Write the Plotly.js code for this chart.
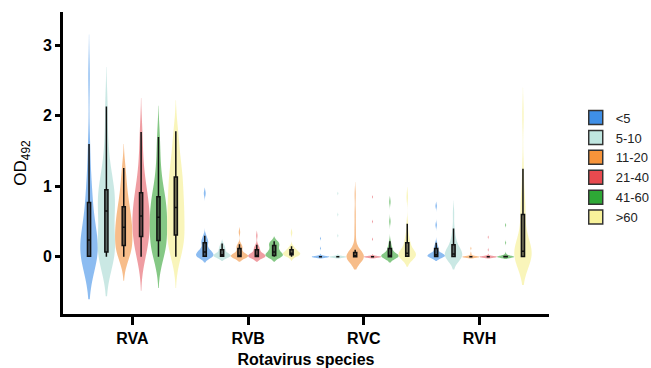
<!DOCTYPE html>
<html>
<head>
<meta charset="utf-8">
<script src="https://cdn.plot.ly/plotly-3.0.1.min.js"></script>
<style>
html,body{margin:0;padding:0;background:#fff;overflow:hidden;}
#wrap{width:651px;height:368px;overflow:hidden;position:relative;}
#chart{width:672px;height:368px;}
</style>
</head>
<body>
<div id="wrap"><div id="chart"></div></div>
<script>
// ---- Data ----
const species = ['RVA', 'RVB', 'RVC', 'RVH'];
const ageGroups = ['<5', '5-10', '11-20', '21-40', '41-60', '>60'];
const ageLabels = ['&lt;5', '5-10', '11-20', '21-40', '41-60', '&gt;60'];

// OD492 values per age group, one list per species
const RVA = [
  [0,0,0,0,0.01,0.01,0.05,0.1,0.16,0.24,0.24,0.32,0.42,0.55,0.77,0.77,0.95,1.2,1.6,2.55],
  [0,0.02,0.04,0.05,0.07,0.07,0.2,0.35,0.5,0.65,0.65,0.75,0.82,0.9,0.95,0.95,1.1,1.3,1.6,2.13],
  [0,0.03,0.08,0.12,0.16,0.16,0.25,0.32,0.38,0.42,0.42,0.48,0.55,0.62,0.71,0.71,0.82,0.95,1.08,1.26],
  [0,0.06,0.14,0.22,0.29,0.29,0.38,0.46,0.52,0.58,0.58,0.65,0.72,0.8,0.91,0.91,1.05,1.2,1.45,1.77],
  [0,0.05,0.1,0.17,0.23,0.23,0.32,0.4,0.48,0.56,0.56,0.62,0.7,0.77,0.85,0.85,1.0,1.15,1.4,1.7],
  [0,0.08,0.16,0.24,0.31,0.31,0.42,0.52,0.62,0.7,0.7,0.8,0.9,1.02,1.13,1.13,1.25,1.4,1.58,1.78]
];
const RVB = [
  [0,0,0,0.01,0.01,0.01,0.03,0.05,0.06,0.07,0.07,0.09,0.11,0.14,0.2,0.2,0.22,0.26,0.3,0.9],
  [0,0,0,0,0.01,0.01,0.01,0.02,0.02,0.03,0.03,0.04,0.05,0.07,0.1,0.1,0.12,0.14,0.16,0.19],
  [0,0,0,0,0,0.01,0.01,0.01,0.02,0.02,0.02,0.03,0.05,0.07,0.12,0.12,0.14,0.16,0.18,0.35],
  [0,0,0,0,0,0.01,0.01,0.01,0.02,0.02,0.02,0.03,0.04,0.06,0.1,0.1,0.12,0.14,0.17,0.3],
  [0,0,0,0.01,0.02,0.02,0.03,0.04,0.05,0.07,0.07,0.09,0.11,0.13,0.16,0.16,0.18,0.2,0.21,0.22],
  [0,0.01,0.02,0.02,0.03,0.03,0.04,0.04,0.05,0.05,0.05,0.06,0.07,0.08,0.1,0.1,0.11,0.13,0.15,0.34]
];
const RVC = [
  [0,0,0,0,0,0,0,0,0,0,0,0,0,0,0,0,0.01,0.02,0.12,0.26],
  [0,0,0,0,0,0,0,0,0,0,0,0,0,0,0,0,0.01,0.3,0.6,0.9],
  [0,0,0,0,0,0,0,0,0,0,0,0,0,0,0.02,0.1,0.25,0.42,0.62,0.88],
  [0,0,0,0,0,0,0,0,0,0,0,0,0,0,0,0,0.01,0.25,0.5,0.85],
  [0,0,0,0,0,0,0.01,0.01,0.02,0.02,0.02,0.03,0.04,0.07,0.12,0.12,0.16,0.22,0.5,0.78],
  [0,0,0,0,0.01,0.01,0.02,0.03,0.04,0.05,0.05,0.07,0.1,0.14,0.2,0.2,0.26,0.33,0.47,0.85]
];
const RVH = [
  [0,0,0,0,0,0.01,0.01,0.02,0.02,0.03,0.03,0.04,0.05,0.07,0.12,0.12,0.15,0.2,0.45,0.72],
  [0,0,0,0,0,0.01,0.01,0.02,0.03,0.04,0.04,0.06,0.08,0.12,0.17,0.17,0.22,0.3,0.4,0.62],
  [0,0,0,0,0,0,0,0,0,0,0,0,0,0,0,0,0,0.02,0.05,0.12],
  [0,0,0,0,0,0,0,0,0,0,0,0,0,0,0,0,0,0.02,0.1,0.28],
  [0,0,0,0,0,0,0,0,0,0,0,0,0,0,0,0.01,0.02,0.04,0.2,0.45],
  [0,0,0,0,0,0.01,0.02,0.03,0.05,0.08,0.08,0.12,0.2,0.35,0.6,0.6,0.75,0.9,1.25,2.0]
];
const speciesValues = [RVA, RVB, RVC, RVH];

// ---- Styling ----
const kdeBandwidth = [
  [0.3, 0.28, 0.17, 0.24, 0.22, 0.22],
  [0.04, 0.03, 0.035, 0.035, 0.035, 0.03],
  [0.012, 0.012, 0.09, 0.012, 0.04, 0.07],
  [0.03, 0.09, 0.012, 0.012, 0.015, 0.2]
];
const violinColors = ['rgba(120,176,238,0.85)', 'rgba(196,230,225,0.9)', 'rgba(246,178,118,0.85)',
                      'rgba(236,140,146,0.85)', 'rgba(112,190,112,0.85)', 'rgba(248,244,178,0.9)'];
const legendColors = ['#3f8fe6', '#bfe6e0', '#f7943a', '#e84a4f', '#2ea836', '#f8f29a'];
const FONT = 'Liberation Sans, Arial, Helvetica, sans-serif';

const traces = [];
speciesValues.forEach((vals, si) => {
  vals.forEach((arr, ai) => {
    traces.push({
      type: 'violin',
      x: arr.map(() => species[si]),
      y: arr,
      name: ageGroups[ai],
      offsetgroup: 'g' + ai,
      alignmentgroup: 'all',
      scalegroup: species[si] + '_' + ai,
      legendgroup: 'g' + ai,
      showlegend: false,
      bandwidth: kdeBandwidth[si][ai],
      fillcolor: violinColors[ai],
      line: {width: 0, color: violinColors[ai]},
      points: false,
      box: {visible: true, width: 0.18, fillcolor: 'rgba(20,20,20,0.6)', line: {color: '#111', width: 1.5}},
      meanline: {visible: false},
      hoverinfo: 'skip'
    });
  });
});
ageLabels.forEach((lab, ai) => {
  traces.push({
    type: 'scatter', mode: 'markers', x: [null], y: [null],
    name: lab, legendgroup: 'g' + ai, showlegend: true,
    marker: {symbol: 'square', size: 14, color: legendColors[ai], line: {color: '#333', width: 1.5}},
    hoverinfo: 'skip'
  });
});

const layout = {
  width: 672, height: 368,
  margin: {l: 63, r: 123, t: 12, b: 54},
  paper_bgcolor: '#fff', plot_bgcolor: '#fff',
  font: {family: FONT, color: '#000'},
  violinmode: 'group', violingap: 0.1, violingroupgap: 0,
  showlegend: true,
  xaxis: {
    type: 'category', categoryorder: 'array', categoryarray: species,
    range: [-0.6, 3.6], fixedrange: true,
    showline: true, linewidth: 3, linecolor: '#000',
    ticks: 'outside', ticklen: 8, tickwidth: 3, tickcolor: '#000',
    tickfont: {family: FONT, size: 16, weight: 'bold', color: '#000'},
    showgrid: false, zeroline: false,
    title: {text: 'Rotavirus species', font: {family: FONT, size: 16, weight: 'bold', color: '#000'}, standoff: 10}
  },
  yaxis: {
    range: [-0.81, 3.47], fixedrange: true,
    tickvals: [0, 1, 2, 3], ticktext: ['0', '1', '2', '3'],
    showline: true, linewidth: 3, linecolor: '#000',
    ticks: 'outside', ticklen: 5, tickwidth: 3, tickcolor: '#000',
    tickfont: {family: FONT, size: 16, weight: 'bold', color: '#000'},
    showgrid: false, zeroline: false,
    title: {text: 'OD<sub>492</sub>', font: {family: FONT, size: 17, color: '#000'}, standoff: 12}
  },
  legend: {
    x: 1.055, xanchor: 'left', y: 0.7, yanchor: 'top',
    font: {family: FONT, size: 13, color: '#222'},
    bgcolor: 'rgba(0,0,0,0)', tracegroupgap: 0, itemwidth: 30
  }
};

Plotly.newPlot('chart', traces, layout, {staticPlot: true, displayModeBar: false});
</script>
</body>
</html>
